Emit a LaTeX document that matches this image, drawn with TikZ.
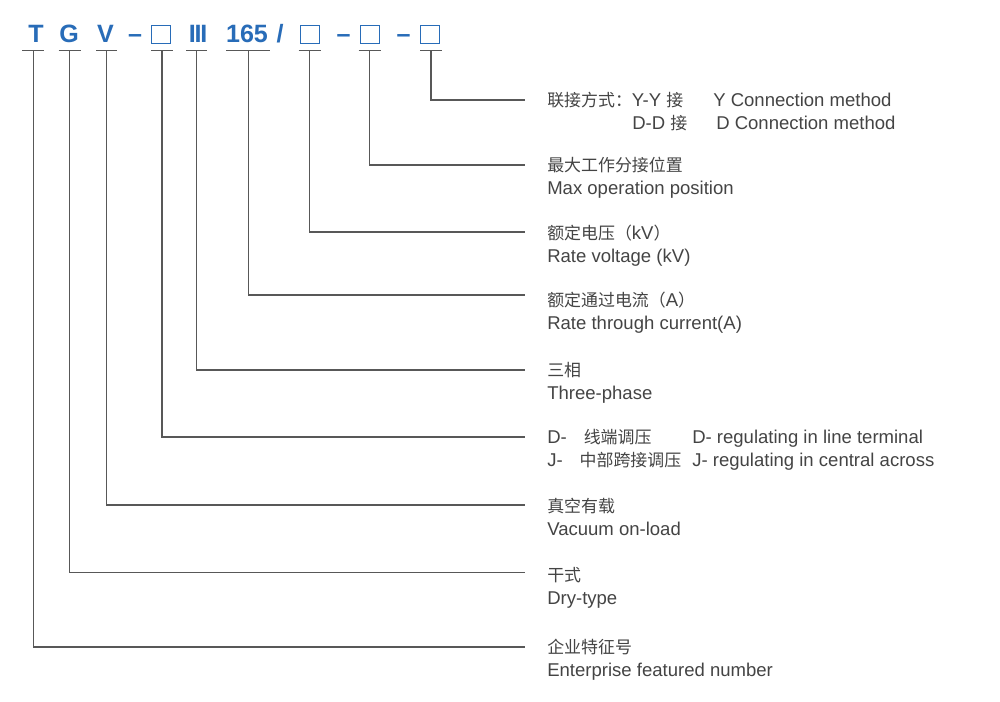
\documentclass[tikz,border=0pt]{standalone}
\usepackage{fontspec}
\setmainfont{Liberation Sans}
\newfontfamily\zhfont{Noto Sans CJK SC}
\usetikzlibrary{positioning}
\definecolor{codeblue}{RGB}{40,108,184}
\definecolor{leadgray}{RGB}{88,88,88}
\definecolor{textgray}{RGB}{68,68,68}
\newcommand{\zh}[1]{{\zhfont\fontsize{12.7pt}{15pt}\selectfont #1}}

\begin{document}
\begin{tikzpicture}[x=0.75pt,y=-0.75pt]
    \tikzstyle{typechar}=[font=\fontsize{18.8pt}{22pt}\selectfont\bfseries, text=codeblue, inner sep=0pt, anchor=base]
    \tikzstyle{codebox}=[draw=codeblue, line width=0.9pt, minimum width=14.3pt, minimum height=13.6pt, inner sep=0pt]
    \tikzstyle{leader}=[draw=leadgray, line width=1pt]
    \tikzstyle{desc}=[font=\fontsize{13.9pt}{16pt}\selectfont, text=textgray, inner sep=0pt, anchor=base west]
      \fill[white] (0,0) rectangle (1000,702);
      \useasboundingbox (0,0) rectangle (1000,702);
      % type code
      \node[typechar] (firm) at (36,43) {T};
      \node[typechar] (dry) at (69,43) {G};
      \node[typechar] (vac) at (105.5,43) {V};
      \node[typechar] (dash1) at (135,43) {–};
      \node[codebox] (reg) at (161,34.8) {};
      \node[typechar] (phase) at (198,43) {I\kern-0.9pt I\kern-0.9pt I};
      \node[typechar] (cur) at (247,43) {165};
      \node[typechar] (slash) at (280,43) {/};
      \node[codebox] (volt) at (310,34.8) {};
      \node[typechar] (dash2) at (343.5,43) {–};
      \node[codebox] (pos) at (370,34.8) {};
      \node[typechar] (dash3) at (403.5,43) {–};
      \node[codebox] (conn) at (430,34.8) {};
      % underlines and line ends
      \coordinate (firm-u) at (33.3,50.5);
      \coordinate (dry-u) at (69.6,50.5);
      \coordinate (vac-u) at (106.6,50.5);
      \coordinate (reg-u) at (162,50.5);
      \coordinate (phase-u) at (196.8,50.5);
      \coordinate (cur-u) at (248.2,50.5);
      \coordinate (volt-u) at (309.6,50.5);
      \coordinate (pos-u) at (369.6,50.5);
      \coordinate (conn-u) at (431,50.5);
      \coordinate (firm-e) at (525,647);
      \coordinate (dry-e) at (525,572.5);
      \coordinate (vac-e) at (525,505);
      \coordinate (reg-e) at (525,437);
      \coordinate (phase-e) at (525,370);
      \coordinate (cur-e) at (525,295);
      \coordinate (volt-e) at (525,232);
      \coordinate (pos-e) at (525,165);
      \coordinate (conn-e) at (525,100);
      % descriptions
      \node[desc] (conn-zh) at (547,106.5) {\zh{联接方式：}Y-Y \zh{接}};
      \node[desc] (conn-en) at (713,106.5) {Y Connection method};
      \node[desc] (conn-zh2) at (632,130) {D-D \zh{接}};
      \node[desc] (conn-en2) at (716,130) {D Connection method};
      \node[desc] (pos-zh) at (547,171.5) {\zh{最大工作分接位置}};
      \node[desc, below=16.9pt of pos-zh.base west, anchor=base west] (pos-en) {Max operation position};
      \node[desc] (volt-zh) at (547,239.5) {\zh{额定电压（}kV\zh{）}};
      \node[desc, below=16.9pt of volt-zh.base west, anchor=base west] (volt-en) {Rate voltage (kV)};
      \node[desc] (cur-zh) at (547,306.5) {\zh{额定通过电流（}A\zh{）}};
      \node[desc, below=16.9pt of cur-zh.base west, anchor=base west] (cur-en) {Rate through current(A)};
      \node[desc] (phase-zh) at (547,376.5) {\zh{三相}};
      \node[desc, below=16.9pt of phase-zh.base west, anchor=base west] (phase-en) {Three-phase};
      \node[desc] (reg-zh) at (547,443.5) {D-\zh{　线端调压}};
      \node[desc] (reg-en) at (692,443.5) {D- regulating in line terminal};
      \node[desc, below=16.9pt of reg-zh.base west, anchor=base west] (reg-zh2) {J-\zh{　中部跨接调压}};
      \node[desc, below=16.9pt of reg-en.base west, anchor=base west] (reg-en2) {J- regulating in central across};
      \node[desc] (vac-zh) at (547,512.5) {\zh{真空有载}};
      \node[desc, below=16.9pt of vac-zh.base west, anchor=base west] (vac-en) {Vacuum on-load};
      \node[desc] (dry-zh) at (547,581.5) {\zh{干式}};
      \node[desc, below=16.9pt of dry-zh.base west, anchor=base west] (dry-en) {Dry-type};
      \node[desc] (firm-zh) at (547,653.5) {\zh{企业特征号}};
      \node[desc, below=16.9pt of firm-zh.base west, anchor=base west] (firm-en) {Enterprise featured number};
      % leaders
      \draw[leader] (firm-u) ++(-11,0) -- ++(22,0) (firm-u) |- (firm-e);
      \draw[leader] (dry-u) ++(-11,0) -- ++(22,0) (dry-u) |- (dry-e);
      \draw[leader] (vac-u) ++(-10.5,0) -- ++(21,0) (vac-u) |- (vac-e);
      \draw[leader] (reg-u) ++(-11,0) -- ++(22,0) (reg-u) |- (reg-e);
      \draw[leader] (phase-u) ++(-10.5,0) -- ++(21,0) (phase-u) |- (phase-e);
      \draw[leader] (cur-u) ++(-22,0) -- ++(44,0) (cur-u) |- (cur-e);
      \draw[leader] (volt-u) ++(-11,0) -- ++(22,0) (volt-u) |- (volt-e);
      \draw[leader] (pos-u) ++(-11,0) -- ++(22,0) (pos-u) |- (pos-e);
      \draw[leader] (conn-u) ++(-11,0) -- ++(22,0) (conn-u) |- (conn-e);
\end{tikzpicture}
\end{document}
